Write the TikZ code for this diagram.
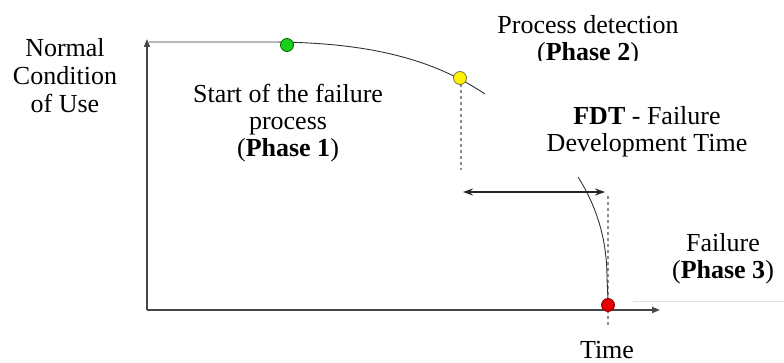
\documentclass[tikz,border=0pt]{standalone}
\usepackage{fontspec}
\setmainfont{Liberation Serif}
\usetikzlibrary{arrows.meta}
\begin{document}
\begin{tikzpicture}[x=1pt,y=-1pt,
  lbl/.style={inner sep=0pt, outer sep=0pt, align=center, anchor=base, font=\fontsize{26}{27}\selectfont},
  axis/.style={draw=black!72, line width=1.6pt},
  curve/.style={draw=black!80, line width=0.9pt},
  guide/.style={draw=black!45, line width=1.3pt, dash pattern=on 3pt off 3pt},
  dot/.style={circle, inner sep=0pt, minimum size=13pt, line width=0.8pt},
  axtip/.style={-{Triangle[length=8pt,width=6pt]}},
  dbl/.style={{Stealth[length=10pt,width=7pt]}-{Stealth[length=10pt,width=7pt]}, line width=1.3pt, draw=black!85}]
\useasboundingbox (0,0) rectangle (784,363);

% axes
\coordinate (o) at (147,310);
\coordinate (ytip) at (147,39);
\coordinate (xtip) at (660,310);
\draw[axis,axtip] (o) -- (ytip);
\draw[axis,axtip] (o) -- (xtip);

% faint line
\coordinate (f1) at (633,301);
\coordinate (f2) at (784,301);
\draw[black!12, line width=0.8pt] (f1) -- (f2);

% top curve
\coordinate (c0) at (149,42);
\coordinate (c1) at (270,42);
\coordinate (c2) at (485,94);
\draw[curve] (c0) -- (c1) .. controls (380,42) and (440,64) .. (c2);

% dashed guides
\coordinate (g1a) at (461,84);
\coordinate (g1b) at (461,170);
\draw[guide] (g1a) -- (g1b);
\coordinate (g2a) at (608,196);
\coordinate (g2b) at (608,328);
\draw[guide] (g2a) -- (g2b);

% second curve
\coordinate (d0) at (578,177);
\coordinate (d1) at (607,278);
\coordinate (d2) at (608,300);
\draw[curve] (d0) .. controls (597,207) and (607,240) .. (d1) -- (d2);

% FDT arrow
\coordinate (a1) at (463,192);
\coordinate (a2) at (605,192);
\draw[dbl] (a1) -- (a2);

% dots
\node[dot, fill=green!80!black!90, draw=green!40!black] (green) at (287,45) {};
\node[dot, fill=yellow, draw=black!60!yellow] (yel) at (460,78) {};
\node[dot, fill=red!90!black, draw=red!50!black] (red) at (608,305) {};

% labels (anchor=base is the baseline of the last line)
\node[lbl, font=\fontsize{26}{28}\selectfont] (ncu) at (65,113) {Normal\\Condition\\of Use};
\node[lbl] (start) at (288,157) {Start of the failure\\process\\(\textbf{Phase 1})};
\begin{scope}
  \clip (480,0) rectangle (700,61);
  \node[lbl] (det) at (588,61) {Process detection\\(\textbf{Phase 2})};
\end{scope}
\node[lbl] (fdt) at (647,152) {\textbf{FDT} - Failure\\Development Time};
\node[lbl] (fail) at (723,279) {Failure\\(\textbf{Phase 3})};
\node[lbl] (time) at (607,358) {Time};
\end{tikzpicture}
\end{document}
